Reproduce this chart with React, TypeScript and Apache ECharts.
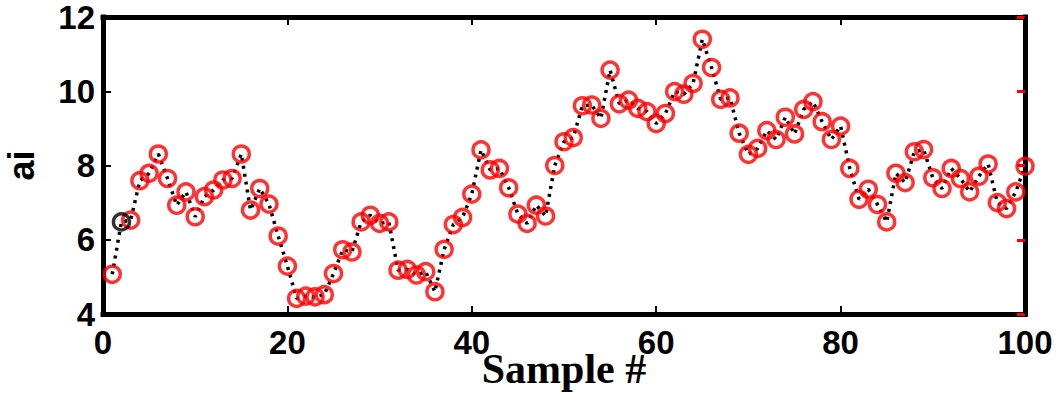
import React, { useEffect, useRef } from "react";
import * as echarts from "echarts";

const sampleIdx: number[] = Array.from({ length: 100 }, (_, i) => i + 1);
const aiValues: number[] = [
  5.07, 6.48, 6.53, 7.59, 7.79, 8.31, 7.65, 6.93, 7.29, 6.62,
  7.16, 7.34, 7.61, 7.65, 8.31, 6.8, 7.38, 6.96, 6.1, 5.29,
  4.42, 4.48, 4.46, 4.52, 5.09, 5.73, 5.67, 6.48, 6.66, 6.44,
  6.48, 5.18, 5.2, 5.05, 5.14, 4.6, 5.74, 6.41, 6.6, 7.23,
  8.42, 7.88, 7.92, 7.4, 6.69, 6.44, 6.93, 6.64, 8.0, 8.64,
  8.75, 9.61, 9.63, 9.27, 10.57, 9.66, 9.76, 9.54, 9.45, 9.13,
  9.4, 9.99, 9.92, 10.21, 11.4, 10.64, 9.78, 9.82, 8.87, 8.3,
  8.46, 8.94, 8.7, 9.3, 8.85, 9.51, 9.72, 9.18, 8.7, 9.06,
  7.92, 7.09, 7.36, 6.95, 6.48, 7.79, 7.54, 8.37, 8.43, 7.67,
  7.38, 7.92, 7.65, 7.29, 7.71, 8.04, 7.0, 6.84, 7.29, 7.98,
];
const blackMarkerIdx: number[] = [2];
const xTicks = { min: 0, max: 100, interval: 20 };
const yTicks = { min: 4, max: 12, interval: 2 };

const sans = "'Liberation Sans', Arial, sans-serif";
const serif = "'Liberation Serif', 'Times New Roman', serif";

export default function App() {
  const ref = useRef<HTMLDivElement>(null);
  useEffect(() => {
    if (!ref.current) return;
    const chart = echarts.init(ref.current, undefined, { renderer: "svg" });
    const pts = sampleIdx.map((x, i) => [x, aiValues[i]]);
    const redPts = pts.filter((p) => !blackMarkerIdx.includes(p[0]));
    const blackPts = pts.filter((p) => blackMarkerIdx.includes(p[0]));
    const frame = { show: true, onZero: false, lineStyle: { color: "#000", width: 5, cap: "square" } };
    const tickBlack = { show: true, inside: true, length: 8, lineStyle: { color: "#000", width: 2 } };
    chart.setOption({
      animation: false,
      backgroundColor: "#fff",
      grid: { left: 103, right: 38, top: 17, bottom: 83, containLabel: false, outerBoundsMode: "none" },
      xAxis: [
        {
          type: "value", position: "bottom", ...xTicks,
          axisLine: frame, axisTick: tickBlack, splitLine: { show: false },
          axisLabel: { color: "#000", fontFamily: sans, fontWeight: "bold", fontSize: 33, margin: 12 },
          name: "Sample #", nameLocation: "middle", nameGap: 34, nameMoveOverlap: false,
          nameTextStyle: { color: "#000", fontFamily: serif, fontWeight: "bold", fontSize: 42, verticalAlign: "top" },
        },
        {
          type: "value", position: "top", ...xTicks,
          axisLine: frame, axisTick: tickBlack, splitLine: { show: false },
          axisLabel: { show: false },
        },
      ],
      yAxis: [
        {
          type: "value", position: "left", ...yTicks,
          axisLine: frame, axisTick: tickBlack, splitLine: { show: false },
          axisLabel: { color: "#000", fontFamily: sans, fontWeight: "bold", fontSize: 33, margin: 8, padding: [8, 0, 0, 0] },
          name: "ai", nameLocation: "middle", nameGap: 66, nameRotate: 90, nameMoveOverlap: false,
          nameTextStyle: { color: "#000", fontFamily: sans, fontWeight: "bold", fontSize: 36, lineHeight: 32 },
        },
        {
          type: "value", position: "right", ...yTicks,
          axisLine: frame,
          axisTick: { show: true, inside: true, length: 8, lineStyle: { color: "#ff0000", width: 3 } },
          splitLine: { show: false }, axisLabel: { show: false },
        },
      ],
      series: [
        {
          type: "line", data: pts, xAxisIndex: 0, yAxisIndex: 0, symbol: "none",
          lineStyle: { color: "#000", width: 3.5, type: [3, 5] }, z: 2,
        },
        {
          type: "scatter", data: redPts, xAxisIndex: 0, yAxisIndex: 0, symbol: "circle", symbolSize: 16,
          itemStyle: { color: "rgba(0,0,0,0)", borderColor: "#ff0000", borderWidth: 3.5 }, z: 3,
        },
        {
          type: "scatter", data: blackPts, xAxisIndex: 0, yAxisIndex: 0, symbol: "circle", symbolSize: 16,
          itemStyle: { color: "rgba(0,0,0,0)", borderColor: "#000", borderWidth: 3.5 }, z: 3,
        },
      ],
    });
    return () => chart.dispose();
  }, []);
  return (
    <div
      ref={ref}
      style={{ position: "fixed", left: 0, top: 0, width: 1063, height: 397, background: "#fff" }}
    />
  );
}
